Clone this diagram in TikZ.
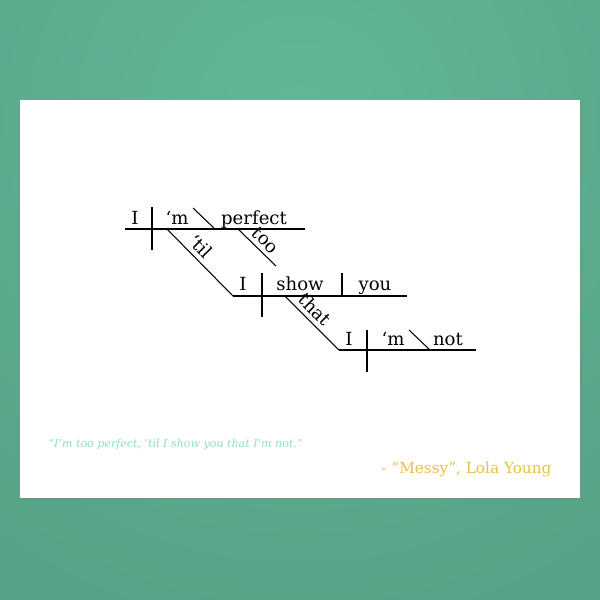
\documentclass[tikz,border=0pt]{standalone}
\usepackage{fontspec}
\setmainfont{DejaVu Serif}
\usepackage{xcolor}
\usepackage{tikz}
\usetikzlibrary{positioning}
\usetikzlibrary{shadows}
\definecolor{bggreen}{RGB}{86,162,134}
\definecolor{bglight}{RGB}{96,184,150}
\definecolor{quoteteal}{RGB}{138,226,196}
\definecolor{credgold}{RGB}{234,194,66}
\tikzset{
    wordn/.style = {anchor=base, inner sep=0pt, font=\fontsize{10.3}{12}\selectfont},
    slantn/.style = {sloped, above, inner sep=2.5pt, font=\fontsize{10.3}{12}\selectfont},
}

\begin{document}
\begin{tikzpicture}[
	x=0.02cm,
	y=-0.02cm,
	line width=0.6pt
]
\tikzset{
    edgen/.style = {-, black},
    cardn/.style = {fill=white, drop shadow={shadow xshift=1.2pt, shadow yshift=-1.2pt, opacity=0.3}}
}
\useasboundingbox (0,0) rectangle (600,600);
\clip (0,0) rectangle (600,600);
% background and card
\fill[bggreen] (0,0) rectangle (600,600);
\shade[inner color=bglight, outer color=bggreen] (300,120) circle (520);
\path[cardn] (20,100) rectangle (580,498);
%
% clause 1: I 'm perfect
\coordinate (b1l) at (125,229);
\coordinate (b1r) at (305,229);
\coordinate (d1t) at (152,207);
\coordinate (d1b) at (152,250);
\coordinate (p1t) at (193,208);
\coordinate (p1b) at (215,229);
\coordinate (too1) at (238,229);
\coordinate (too2) at (276,266);
\coordinate (til1) at (167,229);
\node[wordn] at (135,224) (i1) {I};
\node[wordn] at (177,224) (m1) {‘m};
\node[wordn] at (254,224) (perf) {perfect};
%
% clause 2: I show you
\coordinate (b2l) at (233,296);
\coordinate (b2r) at (407,296);
\coordinate (d2t) at (262,273);
\coordinate (d2b) at (262,317);
\coordinate (o2t) at (342,273);
\coordinate (o2b) at (342,296);
\coordinate (that1) at (285,296);
\node[wordn] at (243,290) (i2) {I};
\node[wordn] at (300,290) (show) {show};
\node[wordn] at (375,290) (you) {you};
%
% clause 3: I 'm not
\coordinate (b3l) at (339,350);
\coordinate (b3r) at (476,350);
\coordinate (d3t) at (367,330);
\coordinate (d3b) at (367,372);
\coordinate (p3t) at (409,330);
\coordinate (p3b) at (430,350);
\node[wordn] at (349,345) (i3) {I};
\node[wordn] at (393,345) (m3) {‘m};
\node[wordn] at (448,345) (not) {not};
%
\draw[edgen] (b1l) -- (b1r);
\draw[edgen] (d1t) -- (d1b);
\draw[edgen] (p1t) -- (p1b);
\draw[edgen] (too1) edge node[slantn, pos=0.52] {too} (too2);
\draw[edgen] (til1) edge node[slantn, pos=0.38] {‘til} (b2l);
%
\draw[edgen] (b2l) -- (b2r);
\draw[edgen] (d2t) -- (d2b);
\draw[edgen] (o2t) -- (o2b);
\draw[edgen] (that1) edge node[slantn, pos=0.4] {that} (b3l);
%
\draw[edgen] (b3l) -- (b3r);
\draw[edgen] (d3t) -- (d3b);
\draw[edgen] (p3t) -- (p3b);
%
% quote and credit
\node[anchor=base west, inner sep=0pt, text=quoteteal, font=\fontsize{6.3}{8}\selectfont\itshape] at (48,447) (quote) {“I’m too perfect, ’til I show you that I’m not.”};
\node[anchor=base east, inner sep=0pt, text=credgold, font=\fontsize{8.7}{10}\selectfont] at (552,473) (credit) {- “Messy”, Lola Young};
\end{tikzpicture}
\end{document}
